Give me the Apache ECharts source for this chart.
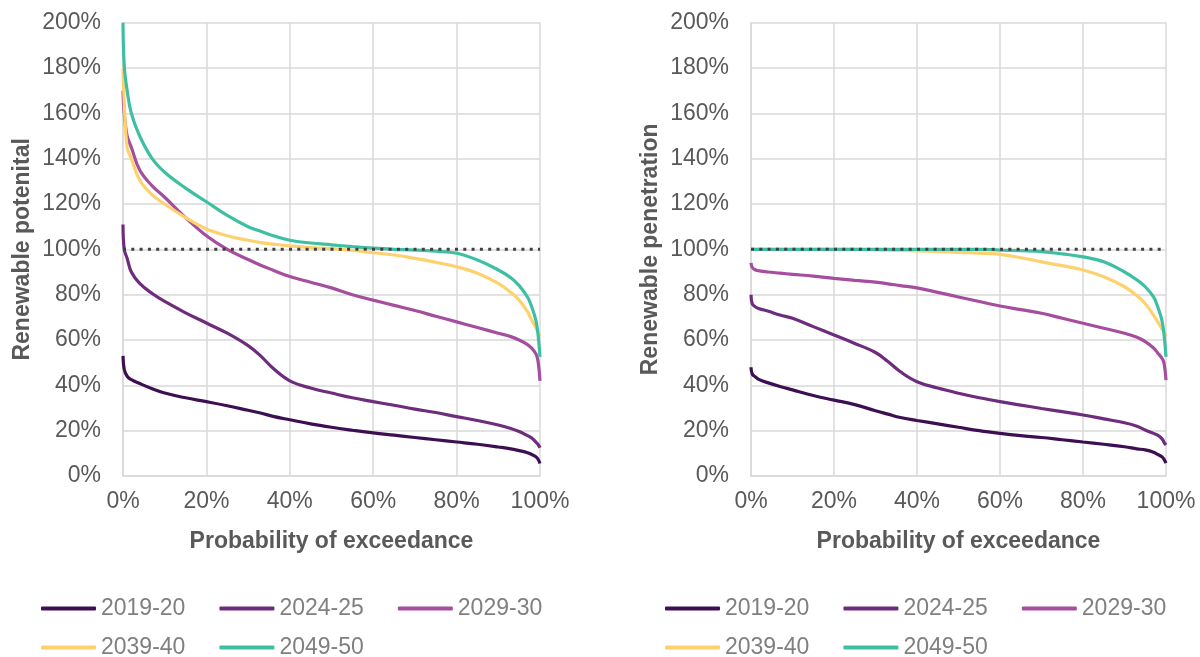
<!DOCTYPE html>
<html>
<head>
<meta charset="utf-8">
<script src="https://cdn.jsdelivr.net/npm/echarts@6/dist/echarts.min.js"></script>
<style>
html,body{margin:0;padding:0;background:#fff;}
#chart{width:1200px;height:657px;}
</style>
</head>
<body>
<div id="chart"></div>
<script>
// Probability of exceedance (%) sample points
const probs = [0, 0.3, 1, 2, 4, 7, 10, 15, 20, 25, 30, 33, 36, 40, 45, 50, 55, 60, 65, 70, 75, 80, 85, 90, 93, 95, 97, 98, 99, 99.5, 100];
const seriesNames = ['2019-20', '2024-25', '2029-30', '2039-40', '2049-50'];
const xTicks = [0, 20, 40, 60, 80, 100];
const yTicks = [0, 20, 40, 60, 80, 100, 120, 140, 160, 180, 200];
const referenceLevel = 100;

// Left: Renewable potential (%)
const potential2019 = [53, 47, 44, 42.5, 40.8, 38.5, 36.6, 34.5, 32.8, 31, 29, 27.8, 26.3, 24.8, 23, 21.5, 20.2, 19, 18, 17, 16, 15, 14, 12.8, 12, 11.2, 10.3, 9.5, 8.5, 7.5, 5.5];
const potential2024 = [111, 100, 96, 90, 85, 80.5, 77, 72, 67.5, 63, 57.5, 53, 47.5, 42, 38.8, 36.6, 34.5, 32.8, 31.2, 29.5, 28, 26.2, 24.5, 22.5, 21, 19.6, 17.8, 16.8, 15, 14, 12.5];
const potential2029 = [170, 160, 150, 145, 135, 128, 123, 114, 106, 100, 95.5, 93, 90.8, 88, 85.5, 83, 80, 77.6, 75.3, 73, 70.5, 68, 65.5, 63, 61.5, 60, 58, 56.4, 54, 51, 42];
const potential2039 = [180, 165, 145, 140, 130.6, 124, 120, 114, 109, 106, 104, 103, 102.3, 101.5, 100.8, 100.3, 99.5, 98.5, 97.5, 96, 94.3, 92.3, 89.5, 85, 81, 77.6, 72.5, 68.8, 65.5, 63.5, 61.5];
const potential2049 = [200, 181, 170, 160, 150, 140, 134, 127, 121, 115, 110, 108, 106, 104, 102.8, 102, 101.2, 100.5, 100, 99.7, 99.2, 98.3, 95.3, 90.9, 87.5, 84, 79, 74.7, 68.8, 63, 52.6];

// Right: Renewable penetration (%)
const penetration2019 = [48, 45, 43.8, 42.5, 41.2, 39.5, 38, 35.5, 33.5, 31.5, 28.8, 27.3, 25.8, 24.5, 23, 21.5, 20, 18.8, 17.8, 17, 16, 15, 14, 12.9, 12, 11.5, 10.5, 9.5, 8.5, 7.5, 5.7];
const penetration2024 = [80, 76, 74.7, 73.8, 72.8, 71, 69.6, 65.9, 62.2, 58.5, 54.5, 50.5, 46, 41.6, 38.8, 36.5, 34.5, 32.8, 31.3, 29.8, 28.4, 26.9, 25.2, 23.5, 22, 20.3, 18.8, 18, 16.5, 15, 13.7];
const penetration2029 = [94, 92, 91, 90.5, 90, 89.5, 89, 88.2, 87.2, 86.3, 85.5, 84.8, 84, 83, 81, 79, 77, 75, 73.4, 71.8, 69.6, 67.4, 65.2, 63, 61.2, 59.3, 56.5, 54.3, 52, 50, 42.3];
const penetration2039 = [100, 100, 100, 100, 100, 100, 100, 100, 100, 100, 99.8, 99.6, 99.5, 99.3, 99, 98.7, 98.3, 97.8, 96.3, 94.5, 92.8, 90.9, 87.9, 83.5, 79.5, 76, 71, 68, 65, 63.5, 61.5];
const penetration2049 = [100, 100, 100, 100, 100, 100, 100, 100, 100, 100, 100, 100, 100, 100, 100, 100, 100, 99.7, 99.4, 99, 98, 96.7, 94.5, 90, 86.5, 83.5, 79, 74.7, 68.8, 63, 52.6];

const colors = ['#3d0f52', '#6e2c7c', '#a54d9f', '#fdd26e', '#3ebfa4'];

const leftValues = [potential2019, potential2024, potential2029, potential2039, potential2049];
const rightValues = [penetration2019, penetration2024, penetration2029, penetration2039, penetration2049];

const pair = vals => probs.map((p, i) => [p, vals[i]]);

const font = 'Liberation Sans, Arial, sans-serif';
const tickColor = '#595959';
const gridColor = '#d9d9d9';
const fs = 23;

function xAxis(gridIndex) {
  return {
    type: 'value', gridIndex, min: xTicks[0], max: xTicks[xTicks.length - 1], interval: 20,
    name: 'Probability of exceedance', nameLocation: 'middle', nameGap: 54,
    nameTextStyle: { fontFamily: font, fontSize: fs, fontWeight: 'bold', color: tickColor },
    axisLine: { show: true, lineStyle: { color: gridColor, width: 1.5 } },
    axisTick: { show: false },
    splitLine: { show: true, lineStyle: { color: gridColor, width: 1.5 } },
    axisLabel: { formatter: '{value}%', fontFamily: font, fontSize: fs, color: tickColor, margin: 14 }
  };
}
function yAxis(gridIndex, name) {
  return {
    type: 'value', gridIndex, min: yTicks[0], max: yTicks[yTicks.length - 1], interval: 20,
    name, nameLocation: 'middle', nameGap: 89,
    nameTextStyle: { fontFamily: font, fontSize: fs, fontWeight: 'bold', color: tickColor },
    axisLine: { show: true, lineStyle: { color: gridColor, width: 1.5 } },
    axisTick: { show: false },
    splitLine: { show: true, lineStyle: { color: gridColor, width: 1.5 } },
    axisLabel: { formatter: '{value}%', fontFamily: font, fontSize: fs, color: tickColor, margin: 22 }
  };
}

const series = [];
[leftValues, rightValues].forEach((set, gi) => {
  set.forEach((vals, si) => {
    series.push({
      type: 'line', name: seriesNames[si], xAxisIndex: gi, yAxisIndex: gi,
      data: pair(vals), showSymbol: false, smooth: 0.4,
      lineStyle: { color: colors[si], width: 3.2 }, itemStyle: { color: colors[si] },
      emphasis: { disabled: true }, animation: false
    });
  });
  series.push({
    type: 'line', name: 'ref', xAxisIndex: gi, yAxisIndex: gi,
    data: [[xTicks[0], referenceLevel], [xTicks[xTicks.length - 1], referenceLevel]],
    showSymbol: false, lineStyle: { color: '#404040', width: 3, type: [3, 5.3] },
    emphasis: { disabled: true }, animation: false, z: 5
  });
});

function legend(left, top, names) {
  return {
    left, top, orient: 'horizontal', itemGap: 34, itemWidth: 55, itemHeight: 4, padding: 0,
    icon: 'roundRect', data: names, selectedMode: false,
    textStyle: { fontFamily: font, fontSize: fs, color: '#808080' }
  };
}

const chart = echarts.init(document.getElementById('chart'), null, { renderer: 'canvas' });
chart.setOption({
  animation: false,
  color: colors,
  grid: [
    { left: 123, right: 660, top: 22.7, bottom: 181 },
    { left: 751, right: 34, top: 22.7, bottom: 181 }
  ],
  xAxis: [xAxis(0), xAxis(1)],
  yAxis: [yAxis(0, 'Renewable potenital'), yAxis(1, 'Renewable penetration')],
  legend: [
    legend(41, 597, seriesNames.slice(0, 3)),
    legend(41, 636, seriesNames.slice(3)),
    legend(665, 597, seriesNames.slice(0, 3)),
    legend(665, 636, seriesNames.slice(3))
  ],
  series
});
</script>
</body>
</html>
